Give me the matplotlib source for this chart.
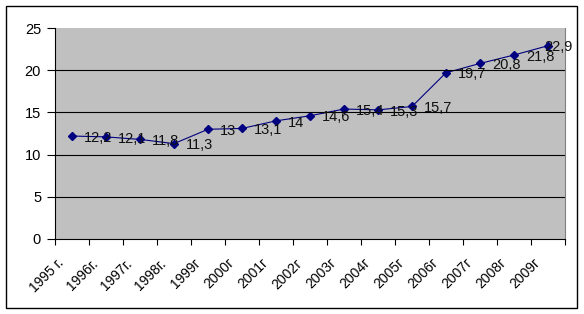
import matplotlib
matplotlib.use("Agg")
import matplotlib.pyplot as plt
import matplotlib.transforms as mtransforms
import numpy as np
from matplotlib.patches import Rectangle

years = ["1995 г.", "1996г.", "1997г.", "1998г.", "1999г", "2000г", "2001г",
         "2002г", "2003г", "2004г", "2005г", "2006г", "2007г", "2008г", "2009г"]
values = [12.2, 12.1, 11.8, 11.3, 13, 13.1, 14, 14.6, 15.4, 15.3, 15.7,
          19.7, 20.8, 21.8, 22.9]
y_ticks = [0, 5, 10, 15, 20, 25]

plt.rcParams["font.family"] = ["Liberation Sans", "DejaVu Sans"]

fig = plt.figure(figsize=(5.84, 3.14), dpi=100)
fig.patches.append(Rectangle((6 / 584, 6 / 314), 571 / 584, 302 / 314,
                             transform=fig.transFigure, fill=False,
                             edgecolor="black", linewidth=1))
ax = fig.add_axes([55 / 584, 1 - 239 / 314, 510 / 584, 211 / 314])
ax.set_facecolor("#C0C0C0")

x = np.arange(len(years))
ax.plot(x, values, color="#000080", linewidth=0.8, marker="D",
        markersize=4, markerfacecolor="#000080", markeredgecolor="#000080")
# data labels to the right of each point, kept inside the plot area
right_limit = len(years) - 0.5 - 0.6
for xi, v in zip(x, values):
    ax.text(min(xi + 0.35, right_limit), v - 0.2, f"{v:g}".replace(".", ","),
            fontsize=10.5, ha="left", va="center", color="#101010",
            clip_on=False)

ax.set_xlim(-0.5, len(years) - 0.5)
ax.set_ylim(0, 25)
ax.set_yticks(y_ticks)
ax.set_xticks(np.arange(len(years) + 1) - 0.5)
ax.set_xticklabels([])

# rotated category labels, ending just left of each category centre
label_tr = ax.get_xaxis_transform() + mtransforms.ScaledTranslation(
    -10 / 100, -22 / 100, fig.dpi_scale_trans)
for xi, name in zip(x, years):
    ax.text(xi, 0, name, transform=label_tr, rotation=45, ha="right",
            va="center", rotation_mode="anchor", fontsize=10, clip_on=False)

ax.tick_params(axis="x", direction="out", length=4)
ax.tick_params(axis="y", direction="out", length=6, pad=4, labelsize=10.5)
for y in y_ticks[1:-1]:
    ax.axhline(y, color="black", linewidth=0.8)

ax.spines["top"].set_visible(False)
ax.spines["right"].set_color("#808080")
ax.spines["right"].set_linewidth(0.8)
ax.spines["left"].set_linewidth(0.8)
ax.spines["bottom"].set_linewidth(0.8)

fig.savefig("out.png", dpi=100)
